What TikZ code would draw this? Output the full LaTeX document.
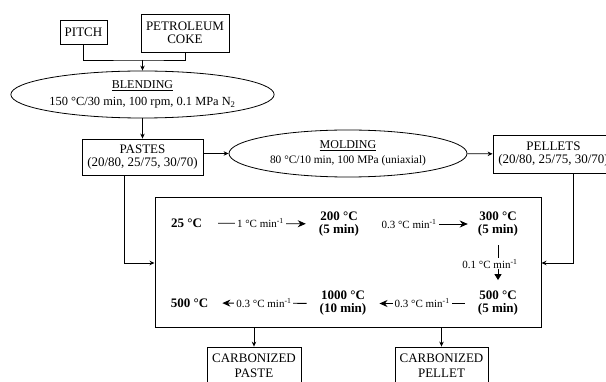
\documentclass[tikz,border=0pt]{standalone}
\usepackage{fontspec}
\setmainfont{Liberation Serif}
\usetikzlibrary{shapes.geometric,arrows.meta}

\begin{document}
\begin{tikzpicture}[x=1pt,y=-1pt,
	box/.style={draw,line width=0.8pt,align=center,inner sep=0pt,font=\fontsize{13}{13}\selectfont},
	proc/.style={draw,ellipse,line width=0.8pt,align=center,inner sep=0pt,font=\fontsize{12}{14}\selectfont},
	temp/.style={align=center,inner sep=0pt,font=\fontsize{13}{13}\selectfont\bfseries},
	rate/.style={-{Stealth[length=8pt,width=7pt]},line width=0.8pt,shorten <=13pt,shorten >=13pt},
	lbl/.style={fill=white,inner xsep=2pt,inner ysep=1pt,font=\fontsize{11}{11}\selectfont},
	link/.style={-{Stealth[length=5pt,width=4.5pt]},line width=0.8pt}]
	\useasboundingbox (0,0) rectangle (606,382);
	\node[box,minimum width=47pt,minimum height=24pt] (pitch) at (83.5,32) {PITCH};
	\node[box,minimum width=88pt,minimum height=38pt] (coke) at (185,33) {PETROLEUM\\COKE};
	\node[proc,minimum width=261pt,minimum height=47pt] (blend) at (142.5,94.5) {\underline{BLENDING}\\[3pt]\fontsize{12.4}{14}\selectfont 150 °C/30 min, 100 rpm, 0.1 MPa N\textsubscript{2}};
	\node[box,minimum width=121pt,minimum height=36pt] (pastes) at (142.5,157) {PASTES\\(20/80, 25/75, 30/70)};
	\node[proc,minimum width=238pt,minimum height=47pt] (mold) at (348,153.5) {\underline{MOLDING}\\[1pt]\fontsize{11.4}{14}\selectfont 80 °C/10 min, 100 MPa (uniaxial)};
	\node[box,minimum width=121pt,minimum height=38pt] (pellets) at (553.5,154) {PELLETS\\(20/80, 25/75, 30/70)};
	\node[draw,line width=1pt,minimum width=386pt,minimum height=130pt] (heat) at (348,263) {};
	\node[box,minimum width=94pt,minimum height=38pt] (cpaste) at (254,366) {CARBONIZED\\[2pt]PASTE};
	\node[box,minimum width=93pt,minimum height=38pt] (cpellet) at (441.5,366) {CARBONIZED\\[2pt]PELLET};
	\foreach \n/\x/\y/\t in {t25/186.5/223/{25 °C}, t200/339/224/{200 °C\\(5 min)}, t300/498/224/{300 °C\\(5 min)},
		t500a/498/303.5/{500 °C\\(5 min)}, t1000/343/303.5/{1000 °C\\(10 min)}, t500b/189.5/303/{500 °C}}
		\node[temp] (\n) at (\x,\y) {\t};
	\draw[rate,shorten <=16pt] (t25) -- node[lbl]{1 °C min\textsuperscript{-1}} (t200);
	\draw[rate,shorten <=26pt,shorten >=10pt] (t200) -- node[lbl,pos=0.42]{0.3 °C min\textsuperscript{-1}} (t300);
	\draw[line width=0.8pt,-{Triangle[length=6pt,width=7pt]},shorten <=9pt,shorten >=11pt] (t300) -- node[lbl,xshift=-8pt]{0.1 °C min\textsuperscript{-1}} (t500a);
	\draw[rate] (t500a) -- node[lbl]{0.3 °C min\textsuperscript{-1}} (t1000);
	\draw[rate,shorten >=14pt] (t1000) -- node[lbl]{0.3 °C min\textsuperscript{-1}} (t500b);
	\coordinate (join) at (142.5,60);
	\draw[line width=0.8pt] (pitch) |- (join) -| (coke);
	\draw[link] (join) -- (blend);
	\draw[link] (blend) -- (pastes);
	\draw[link] (pastes.east |- mold) -- (mold);
	\draw[link] (mold) -- (pellets);
	\draw[link] ([xshift=-18.5pt]pastes.south) |- (heat);
	\draw[link] ([xshift=19.5pt]pellets.south) |- (heat);
	\draw[link] (heat.south -| cpaste) -- (cpaste);
	\draw[link] (heat.south -| cpellet) -- (cpellet);
\end{tikzpicture}
\end{document}
